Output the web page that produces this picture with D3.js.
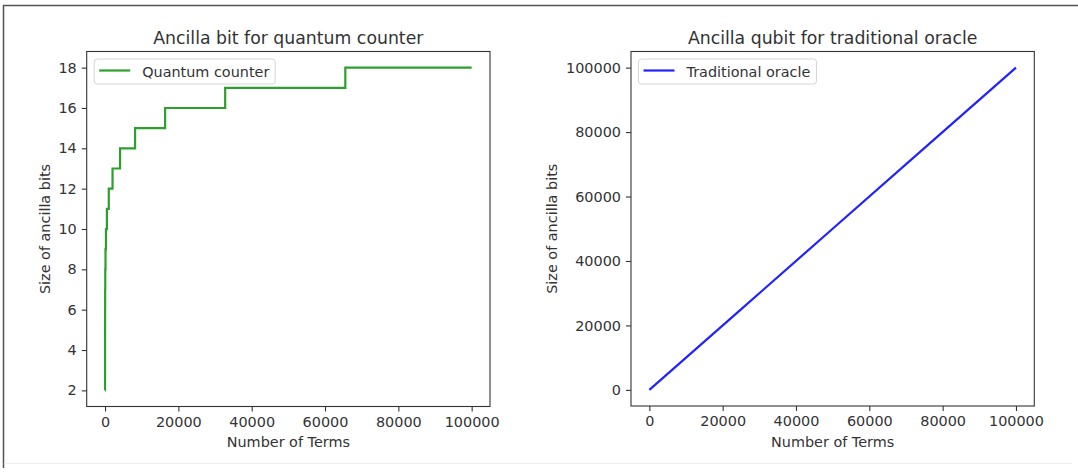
<!DOCTYPE html>
<html>
<head>
<meta charset="utf-8">
<script src="https://cdn.jsdelivr.net/npm/d3@7"></script>
<style>
  body { margin: 0; background: #fff; }
  svg { display: block; font-family: "DejaVu Sans", sans-serif; }
</style>
</head>
<body>
<div id="chart"></div>
<script>
// step data for the quantum counter (terms where the size jumps, and the size)
var counterTerms = [1, 2, 4, 8, 16, 32, 64, 128, 256, 512, 1024, 2048, 4096, 8192, 16384, 32768, 65536, 100000];
var counterBits  = [2, 3, 4, 5, 6, 7, 8, 9, 10, 11, 12, 13, 14, 15, 16, 17, 18, 18];

// traditional oracle grows one bit per term
var oracleTerms = [1, 25000, 50000, 75000, 100000];
var oracleBits  = [1, 25000, 50000, 75000, 100000];

var xTicks = [0, 20000, 40000, 60000, 80000, 100000];
var leftYTicks = [2, 4, 6, 8, 10, 12, 14, 16, 18];
var rightYTicks = [0, 20000, 40000, 60000, 80000, 100000];

var width = 1078, height = 472;
var ink = "#333";

var svg = d3.select("#chart")
    .append("svg")
    .attr("width", width)
    .attr("height", height);

svg.append("rect").attr("width", width).attr("height", height).attr("fill", "#fff");

// frame around the picture
svg.append("line").attr("x1", 3.5).attr("x2", 3.5).attr("y1", 5).attr("y2", 468)
    .attr("stroke", "#555").attr("stroke-width", 1.5);
svg.append("line").attr("x1", 3).attr("x2", 1078).attr("y1", 5.5).attr("y2", 5.5)
    .attr("stroke", "#555").attr("stroke-width", 1.5);
svg.append("line").attr("x1", 4).attr("x2", 1072).attr("y1", 463.5).attr("y2", 463.5)
    .attr("stroke", "#eee").attr("stroke-width", 1);

var panels = [
    {
        title: "Ancilla bit for quantum counter",
        label: "Quantum counter",
        color: "#2ca02c",
        xs: counterTerms, ys: counterBits,
        yDomain: [1.2, 18.8], yTicks: leftYTicks,
        step: true,
        left: 86.7, right: 490, top: 51.5, bottom: 406.5,
        yLabelX: 45, legendW: 181
    },
    {
        title: "Ancilla qubit for traditional oracle",
        label: "Traditional oracle",
        color: "#2222ff",
        xs: oracleTerms, ys: oracleBits,
        yDomain: [-5000, 105000], yTicks: rightYTicks,
        step: false,
        left: 631, right: 1034.3, top: 51.5, bottom: 406,
        yLabelX: 552, legendW: 178
    }
];

panels.forEach(function (p) {
    var x = d3.scaleLinear().domain([-5000, 105000]).range([p.left, p.right]);
    var y = d3.scaleLinear().domain(p.yDomain).range([p.bottom, p.top]);

    var g = svg.append("g");

    // x axis
    var xAxis = g.append("g")
        .attr("transform", "translate(0," + p.bottom + ")")
        .call(d3.axisBottom(x).tickValues(xTicks).tickFormat(d3.format("d")).tickSize(5).tickPadding(5));
    // y axis
    var yAxis = g.append("g")
        .attr("transform", "translate(" + p.left + ",0)")
        .call(d3.axisLeft(y).tickValues(p.yTicks).tickFormat(d3.format("d")).tickSize(5).tickPadding(5));

    [xAxis, yAxis].forEach(function (a) {
        a.select(".domain").remove();
        a.selectAll("line").attr("stroke", ink).attr("stroke-width", 1.1);
        a.selectAll("text").attr("fill", ink).style("font-size", "14.4px")
            .style("font-family", "DejaVu Sans");
    });

    // data line
    var line = d3.line()
        .x(function (d) { return x(d[0]); })
        .y(function (d) { return y(d[1]); });
    if (p.step) line.curve(d3.curveStepAfter);

    var pts = p.xs.map(function (v, i) { return [v, p.ys[i]]; });
    g.append("path")
        .datum(pts)
        .attr("d", line)
        .attr("fill", "none")
        .attr("stroke", p.color)
        .attr("stroke-width", 2.2);

    // spines
    g.append("rect")
        .attr("x", p.left).attr("y", p.top)
        .attr("width", p.right - p.left).attr("height", p.bottom - p.top)
        .attr("fill", "none").attr("stroke", ink).attr("stroke-width", 1.1);

    // title
    g.append("text")
        .attr("x", (p.left + p.right) / 2).attr("y", 44)
        .attr("text-anchor", "middle")
        .attr("fill", ink)
        .style("font-size", "17.3px")
        .text(p.title);

    // axis labels
    g.append("text")
        .attr("x", (p.left + p.right) / 2).attr("y", 447)
        .attr("text-anchor", "middle")
        .attr("fill", ink)
        .style("font-size", "14.4px")
        .text("Number of Terms");

    g.append("text")
        .attr("transform", "translate(" + p.yLabelX + "," + (p.top + p.bottom) / 2 + ") rotate(-90)")
        .attr("text-anchor", "middle")
        .attr("dy", "0.35em")
        .attr("fill", ink)
        .style("font-size", "14.4px")
        .text("Size of ancilla bits");

    // legend
    var lg = g.append("g").attr("transform", "translate(" + (p.left + 7.5) + "," + (p.top + 7.5) + ")");
    lg.append("rect")
        .attr("width", p.legendW).attr("height", 25)
        .attr("rx", 3)
        .attr("fill", "#fff").attr("fill-opacity", 0.8)
        .attr("stroke", "#d6d6d6").attr("stroke-width", 1);
    lg.append("line")
        .attr("x1", 5).attr("x2", 36).attr("y1", 11.5).attr("y2", 11.5)
        .attr("stroke", p.color).attr("stroke-width", 2.2);
    lg.append("text")
        .attr("x", 48).attr("y", 12.5)
        .attr("dy", "0.35em")
        .attr("fill", ink)
        .style("font-size", "14.4px")
        .text(p.label);
});
</script>
</body>
</html>
